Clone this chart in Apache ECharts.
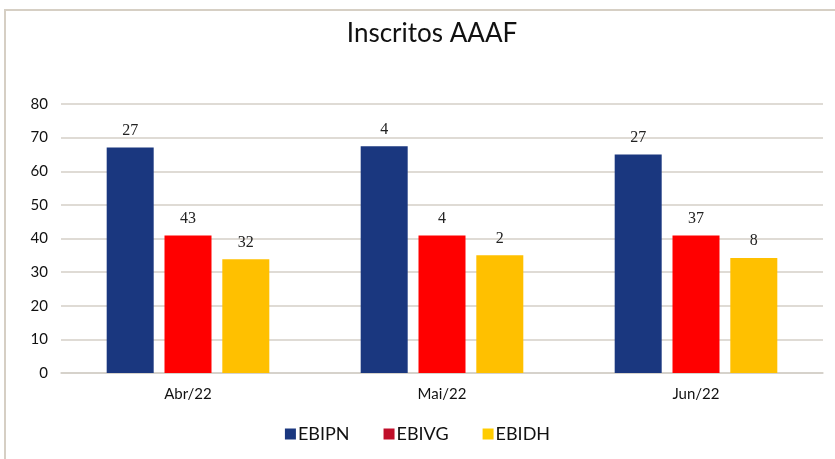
<!DOCTYPE html>
<html>
<head>
<meta charset="utf-8">
<script src="https://cdn.jsdelivr.net/npm/echarts@6/dist/echarts.min.js"></script>
<style>
    html, body { margin: 0; padding: 0; background: #fff; }
    #chart { width: 835px; height: 459px; }
</style>
</head>
<body>
<div id="chart"></div>
<script>
    // categories
    var meses = ['Abr/22', 'Mai/22', 'Jun/22'];
    var series_names = ['EBIPN', 'EBIVG', 'EBIDH'];
    var yTicks = [0, 10, 20, 30, 40, 50, 60, 70, 80];

    // bar heights (as drawn)
    var ebipn = [67.1, 67.4, 65.0];
    var ebivg = [40.9, 40.9, 40.9];
    var ebidh = [33.8, 35.0, 34.2];

    // labels shown above bars (they are not the bar heights)
    var ebipnLabels = ['27', '4', '27'];
    var ebivgLabels = ['43', '4', '37'];
    var ebidhLabels = ['32', '2', '8'];

    var cores = ['#1a377f', '#ff0000', '#ffc000'];
    var coresLegenda = ['#1a377f', '#c00f2a', '#ffcc00'];

    var chart = echarts.init(document.getElementById('chart'));

    function serie(nome, dados, labels, cor) {
        return {
            name: nome,
            type: 'bar',
            data: dados,
            barWidth: 47,
            barGap: '23%',
            itemStyle: { color: cor },
            label: {
                show: true,
                position: 'top',
                distance: 9,
                fontFamily: 'Liberation Serif',
                fontSize: 16,
                color: '#222',
                formatter: function (p) { return labels[p.dataIndex]; }
            }
        };
    }

    var option = {
        animation: false,
        backgroundColor: '#fff',
        title: {
            text: 'Inscritos AAAF',
            left: 427,
            top: 16,
            textAlign: 'center',
            textStyle: {
                fontFamily: 'Lato',
                fontWeight: 'normal',
                fontSize: 26,
                color: '#111'
            }
        },
        legend: {
            bottom: 11,
            left: 'center',
            itemWidth: 11,
            itemHeight: 11,
            itemGap: 34,
            icon: 'rect',
            textStyle: { fontFamily: 'Lato', fontSize: 18, color: '#111', padding: [0, 0, 0, -3] },
            data: series_names.map(function (n, i) {
                return { name: n, itemStyle: { color: coresLegenda[i] } };
            })
        },
        graphic: [{
            type: 'polyline',
            shape: { points: [[5, 459], [5, 10], [835, 10]] },
            style: { stroke: '#d6cfc4', lineWidth: 2, fill: null },
            silent: true
        }],
        grid: {
            left: 61,
            right: 12,
            top: 104,
            bottom: 86
        },
        xAxis: {
            type: 'category',
            data: meses,
            axisTick: { show: false },
            axisLine: { lineStyle: { color: '#d4cfc7', width: 1.5 } },
            axisLabel: { fontFamily: 'Lato', fontSize: 15, color: '#111', margin: 14 }
        },
        yAxis: {
            type: 'value',
            min: yTicks[0],
            max: yTicks[yTicks.length - 1],
            interval: 10,
            axisLine: { show: false },
            axisTick: { show: false },
            axisLabel: { fontFamily: 'Lato', fontSize: 15, color: '#111', margin: 13 },
            splitLine: { lineStyle: { color: '#d4cfc7', width: 1.5 } }
        },
        series: [
            serie(series_names[0], ebipn, ebipnLabels, cores[0]),
            serie(series_names[1], ebivg, ebivgLabels, cores[1]),
            serie(series_names[2], ebidh, ebidhLabels, cores[2])
        ]
    };

    chart.setOption(option);
</script>
</body>
</html>
